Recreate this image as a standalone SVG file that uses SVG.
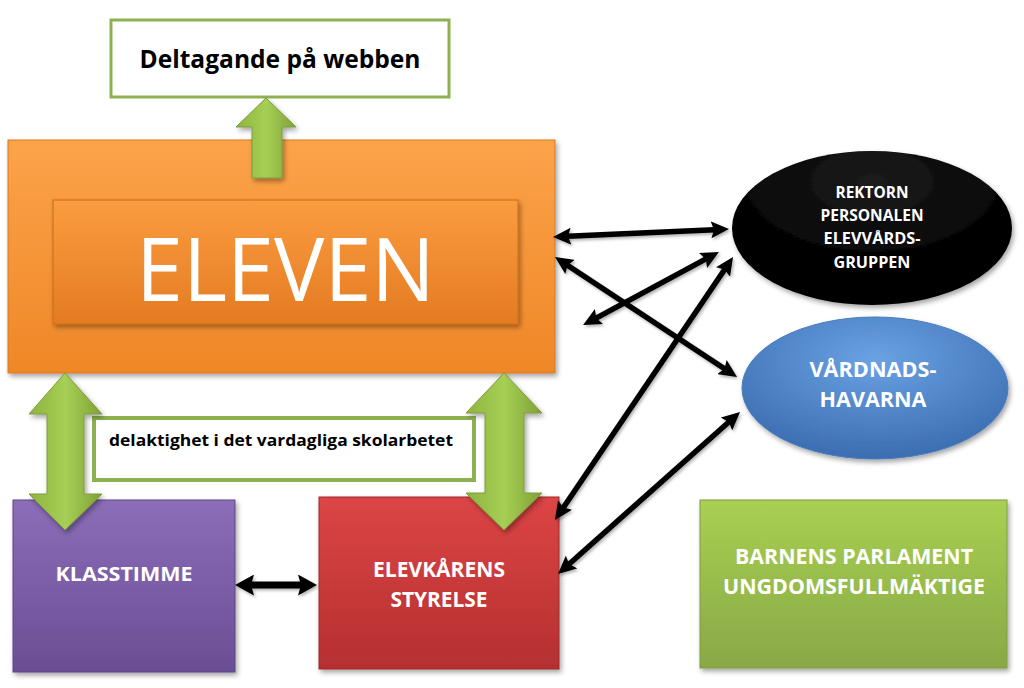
<svg xmlns="http://www.w3.org/2000/svg" width="1024" height="688" viewBox="0 0 1024 688">
<defs>
<style>
.t{font-family:"Open Sans","Liberation Sans",sans-serif;font-weight:bold;text-anchor:middle}
.w{fill:#ffffff}
.k{fill:#000000}
.conn{stroke:#000;stroke-width:5.5;fill:none;marker-start:url(#ah);marker-end:url(#ah)}
.garrow{fill:url(#gArrow);stroke:#7d9c3c;stroke-width:1}
</style>
<marker id="ah" markerUnits="userSpaceOnUse" markerWidth="18" markerHeight="17" viewBox="0 0 18 17" refX="9" refY="8.5" orient="auto-start-reverse">
<path d="M0,0 L18,8.5 L0,17 L3,8.5 z" fill="#000"/>
</marker>
<marker id="ah2" markerUnits="userSpaceOnUse" markerWidth="19" markerHeight="21" viewBox="0 0 19 21" refX="9" refY="10.5" orient="auto-start-reverse">
<path d="M0,0 L19,10.5 L0,21 L3,10.5 z" fill="#000"/>
</marker>
<linearGradient id="gOrange" x1="0" y1="0" x2="0" y2="1">
<stop offset="0" stop-color="#fca34a"/><stop offset="1" stop-color="#ef8727"/>
</linearGradient>
<linearGradient id="gOrangeIn" x1="0" y1="0" x2="0" y2="1">
<stop offset="0" stop-color="#fb9c40"/><stop offset="1" stop-color="#e47b22"/>
</linearGradient>
<linearGradient id="gPurple" x1="0" y1="0" x2="0" y2="1">
<stop offset="0" stop-color="#8b6db8"/><stop offset="1" stop-color="#6a4e94"/>
</linearGradient>
<linearGradient id="gRed" x1="0" y1="0" x2="0" y2="1">
<stop offset="0" stop-color="#dc4545"/><stop offset="1" stop-color="#b52f2f"/>
</linearGradient>
<linearGradient id="gGreen" x1="0" y1="0" x2="0" y2="1">
<stop offset="0" stop-color="#a9d052"/><stop offset="1" stop-color="#88a846"/>
</linearGradient>
<linearGradient id="gArrow" x1="0" y1="0" x2="1" y2="0">
<stop offset="0" stop-color="#8db43f"/><stop offset="0.5" stop-color="#a6cf55"/><stop offset="1" stop-color="#7fa136"/>
</linearGradient>
<radialGradient id="gBlue" cx="0.5" cy="0.3" r="0.7">
<stop offset="0" stop-color="#6aa2e4"/><stop offset="1" stop-color="#3b6db0"/>
</radialGradient>
<radialGradient id="gBlack" cx="0.5" cy="0.2" r="0.8">
<stop offset="0" stop-color="#1c1c1c"/><stop offset="0.6" stop-color="#050505"/><stop offset="1" stop-color="#000000"/>
</radialGradient>
<filter id="sh" x="-10%" y="-10%" width="125%" height="130%">
<feDropShadow dx="2" dy="3" stdDeviation="2.5" flood-color="#000" flood-opacity="0.35"/>
</filter>
<filter id="shs" x="-10%" y="-10%" width="125%" height="130%">
<feDropShadow dx="1.5" dy="2" stdDeviation="1.5" flood-color="#000" flood-opacity="0.3"/>
</filter>
</defs>

<g id="eleven">
<rect x="8" y="140" width="547" height="233" fill="url(#gOrange)" stroke="#d9791f" stroke-width="1" filter="url(#sh)"/>
<rect x="53" y="200" width="465" height="124" fill="url(#gOrangeIn)" stroke="#c96d1c" stroke-width="1" filter="url(#sh)"/>
<text class="t w" x="285.5" y="301" font-size="88" style="font-weight:normal" textLength="299" lengthAdjust="spacingAndGlyphs">ELEVEN</text>
</g>

<g id="webben">
<rect x="111" y="20" width="338" height="77" fill="#ffffff" stroke="#8db151" stroke-width="3"/>
<text class="t k" x="280" y="68" font-size="25" textLength="281" lengthAdjust="spacingAndGlyphs">Deltagande på webben</text>
</g>

<g id="rektorn">
<ellipse cx="872" cy="228" rx="140" ry="77" fill="url(#gBlack)" filter="url(#sh)"/>
<text class="t w" x="872" y="198" font-size="16" textLength="73" lengthAdjust="spacingAndGlyphs">REKTORN</text>
<text class="t w" x="872" y="221" font-size="16" textLength="103" lengthAdjust="spacingAndGlyphs">PERSONALEN</text>
<text class="t w" x="872" y="244" font-size="16" textLength="97" lengthAdjust="spacingAndGlyphs">ELEVVÅRDS-</text>
<text class="t w" x="872" y="268" font-size="16" textLength="77" lengthAdjust="spacingAndGlyphs">GRUPPEN</text>
</g>

<g id="vardnadshavarna">
<ellipse cx="875" cy="388" rx="133" ry="71" fill="url(#gBlue)" stroke="#4a7cbc" stroke-width="1" filter="url(#sh)"/>
<text class="t w" x="873" y="377" font-size="21" textLength="127" lengthAdjust="spacingAndGlyphs">VÅRDNADS-</text>
<text class="t w" x="873" y="407" font-size="21" textLength="107" lengthAdjust="spacingAndGlyphs">HAVARNA</text>
</g>

<g id="klasstimme">
<rect x="13" y="500" width="222" height="172" fill="url(#gPurple)" stroke="#5f4585" stroke-width="1" filter="url(#sh)"/>
<text class="t w" x="124" y="581" font-size="20" textLength="137" lengthAdjust="spacingAndGlyphs">KLASSTIMME</text>
</g>

<g id="elevkaren">
<rect x="319" y="497" width="240" height="172" fill="url(#gRed)" stroke="#a02828" stroke-width="1" filter="url(#sh)"/>
<text class="t w" x="439" y="577" font-size="21" textLength="132" lengthAdjust="spacingAndGlyphs">ELEVKÅRENS</text>
<text class="t w" x="439" y="607" font-size="21" textLength="97" lengthAdjust="spacingAndGlyphs">STYRELSE</text>
</g>

<g id="parlament">
<rect x="700" y="500" width="307" height="168" fill="url(#gGreen)" stroke="#7f9c40" stroke-width="1" filter="url(#sh)"/>
<text class="t w" x="854" y="564" font-size="21" textLength="238" lengthAdjust="spacingAndGlyphs">BARNENS PARLAMENT</text>
<text class="t w" x="854" y="594" font-size="21" textLength="262" lengthAdjust="spacingAndGlyphs">UNGDOMSFULLMÄKTIGE</text>
</g>

<g id="delaktighet">
<rect x="94" y="418" width="380" height="62" fill="#ffffff" stroke="#8db151" stroke-width="4"/>
<text class="t k" x="281" y="446" font-size="16.5" textLength="344" lengthAdjust="spacingAndGlyphs">delaktighet i det vardagliga skolarbetet</text>
</g>

<g id="green-arrows">
<polygon class="garrow" points="266,98 296,127 282,127 282,178 252,178 252,127 236,127" filter="url(#sh)"/>
<polygon class="garrow" points="65,373 102,414 84,414 84,494 102,494 65,530 29,494 47,494 47,414 29,414" filter="url(#sh)"/>
<polygon class="garrow" points="504,373 542,413 524,413 524,493 542,493 504,530 466,493 485,493 485,413 466,413" filter="url(#sh)"/>
</g>

<g id="connectors" filter="url(#shs)">
<line class="conn" x1="562" y1="236.6" x2="720" y2="229.4"/>
<line class="conn" x1="562.5" y1="262" x2="729.5" y2="372"/>
<line class="conn" x1="591" y1="320.8" x2="711" y2="256.2"/>
<line class="conn" x1="560" y1="512.5" x2="728" y2="264.5"/>
<line class="conn" x1="564.7" y1="568" x2="733.3" y2="418"/>
<line class="conn" x1="245" y1="585" x2="307" y2="585" style="stroke-width:7;marker-start:url(#ah2);marker-end:url(#ah2)"/>
</g>
</svg>
